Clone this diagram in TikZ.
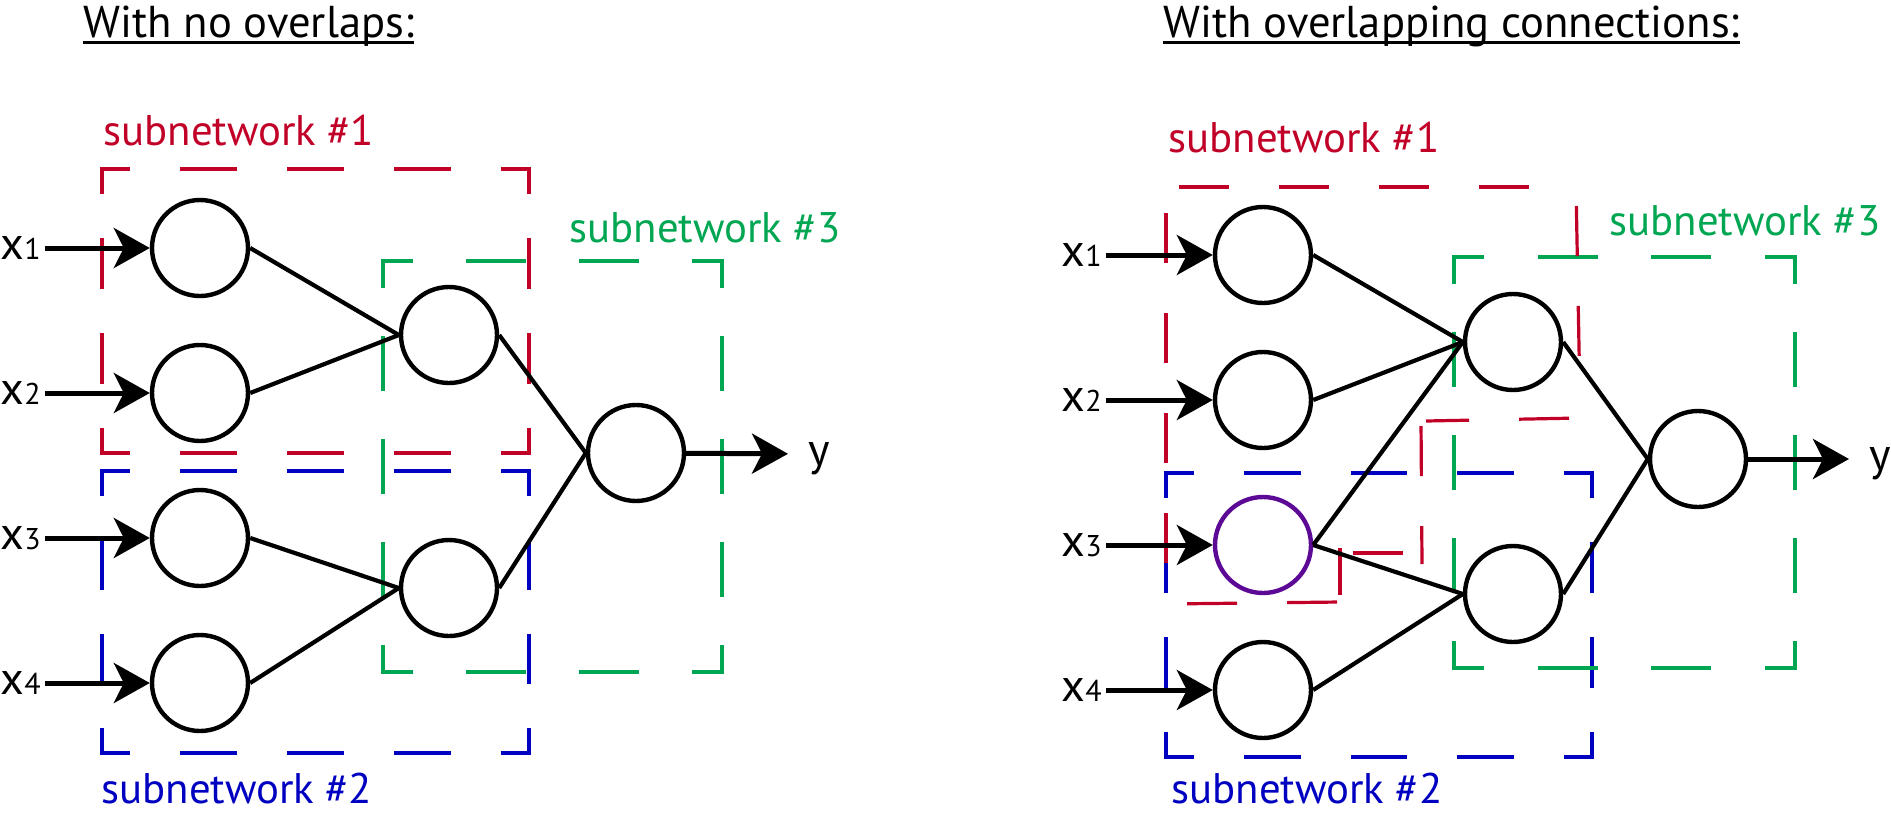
\documentclass[tikz,border=0pt]{standalone}
\usepackage{fontspec}
\setmainfont{PT Sans}
\usetikzlibrary{arrows.meta}
\definecolor{netred}{RGB}{193,0,40}
\definecolor{netgreen}{RGB}{0,166,81}
\definecolor{netblue}{RGB}{0,0,192}
\definecolor{netpurple}{RGB}{92,10,150}
\tikzset{
  neuron/.style={circle, draw, line width=2.2pt, minimum size=48pt, inner sep=0pt, fill=white},
  netbox/.style={line width=1.6pt, line cap=rect},
  link/.style={line width=2.1pt},
  feed/.style={line width=2.5pt, -{Stealth[length=18pt, width=20pt, inset=5pt]}},
  sublabel/.style={anchor=base west, inner sep=0pt, font=\fontsize{21.4}{26}\selectfont},
  title/.style={anchor=base west, inner sep=0pt, font=\fontsize{22.3}{26}\selectfont},
  varlabel/.style={font=\fontsize{23}{28}\selectfont, inner sep=2pt}
}
% dashed box whose dashes meet at the corners: colour, x1, y1, x2, y2, dashes across, dashes down
\newcommand{\netframe}[7]{%
  \pgfmathsetmacro\frdx{(#4-#2)/(4*#6+4)}\pgfmathsetmacro\frhx{\frdx/2}%
  \pgfmathsetmacro\frdy{(#5-#3)/(4*#7+4)}\pgfmathsetmacro\frhy{\frdy/2}%
  \draw[netbox, #1, dash pattern=on \frdx pt off \frdx pt, dash phase=\frhx pt] (#2,#3) -- (#4,#3) (#2,#5) -- (#4,#5);
  \draw[netbox, #1, dash pattern=on \frdy pt off \frdy pt, dash phase=\frhy pt] (#2,#3) -- (#2,#5) (#4,#3) -- (#4,#5);
}
\begin{document}
\begin{tikzpicture}[x=0.5pt, y=-0.5pt, line join=miter]
\useasboundingbox (0,0) rectangle (1891,815);
% left: no overlaps
\node[title] (ta) at (83,37) {With no overlaps:};
\draw[line width=1.5pt] ([yshift=-2.5pt]ta.base west) -- ([yshift=-2.5pt]ta.base east);
\netframe{netblue}{102}{471}{529}{753}{3}{2}
\netframe{netred}{102}{169}{529}{453}{3}{2}
\netframe{netgreen}{383}{261}{722}{672}{2}{3}
\node[sublabel, netred] (sa1) at (103,145) {subnetwork \#1};
\node[sublabel, netgreen] (sa3) at (569,242) {subnetwork \#3};
\node[sublabel, netblue] (sa2) at (101,803) {subnetwork \#2};
\foreach \i in {1,...,4} {
  \node[neuron] (a\i) at (200,{103+145*\i}) {};
  \node[varlabel, anchor=east] (ax\i) at (45,{103+145*\i}) {x{\fontsize{15}{15}\selectfont\i}};
  \draw[feed] (ax\i) -- (a\i);
}
\node[neuron] (ah1) at (449,335) {};
\node[neuron] (ah2) at (449,588) {};
\node[neuron] (ao) at (636,453) {};
\foreach \s/\t in {a1/ah1, a2/ah1, a3/ah2, a4/ah2, ah1/ao, ah2/ao}
  \draw[link] (\s.east) -- (\t.west);
\node[varlabel, anchor=west, text depth=0pt, inner xsep=10pt] (ay) at (788,454) {y};
\draw[feed] (ao) -- (ay);
% right: overlapping connections
\node[title] (tb) at (1163,37) {With overlapping connections:};
\draw[line width=1.5pt] ([yshift=-2.5pt]tb.base west) -- ([yshift=-2.5pt]tb.base east);
\netframe{netblue}{1166}{473}{1592}{757}{3}{2}
\netframe{netgreen}{1454}{257}{1795}{668}{2}{3}
\foreach \xa/\ya/\xb/\yb/\ph in {1166/187/1578/187/43.5, 1576/187/1580/400/40.5,
    1580/418/1426/421/44.5, 1421/421/1422/564/47.5, 1422/553/1340/553/40.5,
    1340/548/1340/595/0, 1340/602/1166/604/48.5, 1166/603/1166/187/30}
  \draw[netbox, netred, line cap=butt, dash pattern=on 25pt off 25pt, dash phase=\ph pt] (\xa,\ya) -- (\xb,\yb);
\node[sublabel, netred] (sb1) at (1168,152) {subnetwork \#1};
\node[sublabel, netgreen] (sb3) at (1609,235) {subnetwork \#3};
\node[sublabel, netblue] (sb2) at (1171,803) {subnetwork \#2};
\foreach \i/\c in {1/black, 2/black, 3/netpurple, 4/black} {
  \node[neuron, draw=\c] (b\i) at (1263,{110+145*\i}) {};
  \node[varlabel, anchor=east] (bx\i) at (1106,{110+145*\i}) {x{\fontsize{15}{15}\selectfont\i}};
  \draw[feed] (bx\i) -- (b\i);
}
\node[neuron] (bh1) at (1513,342) {};
\node[neuron] (bh2) at (1513,594) {};
\node[neuron] (bo) at (1698,459) {};
\foreach \s/\t in {b1/bh1, b2/bh1, b3/bh1, b3/bh2, b4/bh2, bh1/bo, bh2/bo}
  \draw[link] (\s.east) -- (\t.west);
\node[varlabel, anchor=west, text depth=0pt, inner xsep=10pt] (by) at (1849,459) {y};
\draw[feed] (bo) -- (by);
\end{tikzpicture}
\end{document}
